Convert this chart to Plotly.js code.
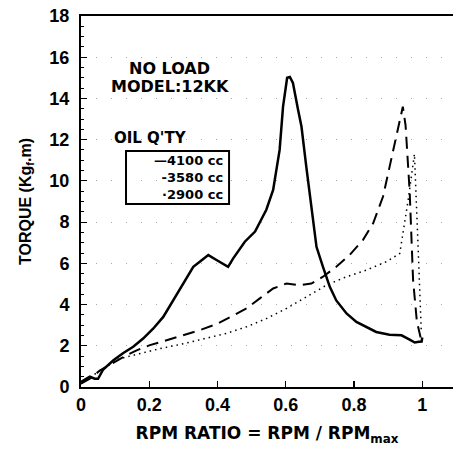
<!DOCTYPE html>
<html>
<head>
<meta charset="utf-8">
<script src="https://cdn.plot.ly/plotly-3.0.1.min.js"></script>
<style>html,body{margin:0;padding:0;background:#fff;}#chart{width:453px;height:461px;}</style>
</head>
<body>
<div id="chart"></div>
<script>
// RPM ratio and torque values
var solidX = [0, 0.015, 0.026, 0.04, 0.05, 0.065, 0.08, 0.095, 0.124, 0.153, 0.182, 0.212, 0.241, 0.27, 0.3, 0.329, 0.348, 0.373, 0.397, 0.431, 0.446, 0.48, 0.51, 0.543, 0.563, 0.582, 0.592, 0.604, 0.612, 0.621, 0.636, 0.646, 0.66, 0.675, 0.69, 0.709, 0.729, 0.748, 0.778, 0.807, 0.836, 0.865, 0.904, 0.939, 0.963, 0.978, 0.99, 0.998, 1.0];
var solidY = [0.24, 0.4, 0.5, 0.4, 0.4, 0.85, 1.1, 1.3, 1.65, 1.95, 2.35, 2.84, 3.4, 4.2, 5.0, 5.83, 6.08, 6.4, 6.16, 5.83, 6.24, 7.05, 7.54, 8.6, 9.56, 11.5, 13.6, 15.0, 15.04, 14.75, 13.45, 12.64, 10.7, 8.6, 6.8, 5.83, 4.86, 4.2, 3.57, 3.16, 2.92, 2.67, 2.54, 2.51, 2.3, 2.16, 2.19, 2.2, 2.4];

var dashX = [0, 0.026, 0.056, 0.095, 0.129, 0.163, 0.202, 0.251, 0.3, 0.348, 0.397, 0.446, 0.485, 0.524, 0.563, 0.602, 0.641, 0.675, 0.709, 0.748, 0.787, 0.826, 0.856, 0.885, 0.909, 0.929, 0.943, 0.951, 0.963, 0.973, 0.984, 0.995];
var dashY = [0.16, 0.4, 0.81, 1.2, 1.5, 1.78, 2.03, 2.27, 2.51, 2.76, 3.05, 3.48, 3.81, 4.3, 4.78, 5.02, 4.94, 5.02, 5.35, 5.83, 6.4, 7.13, 7.94, 9.24, 11.0, 12.5, 13.6, 12.7, 9.5, 5.2, 3.2, 2.4];

var dotX = [0, 0.056, 0.114, 0.173, 0.231, 0.3, 0.368, 0.426, 0.485, 0.543, 0.602, 0.66, 0.719, 0.778, 0.836, 0.895, 0.934, 0.958, 0.977, 0.987, 0.997];
var dotY = [0.16, 0.8, 1.38, 1.62, 1.86, 2.1, 2.35, 2.6, 2.92, 3.32, 3.81, 4.38, 4.94, 5.35, 5.67, 6.08, 6.48, 9.0, 11.3, 7.1, 2.75];

var seriesNames = ["4100 cc", "3580 cc", "2900 cc"];
var legendMarks = ["\u2014", "-", "\u00b7"];
var xTickVals = [0, 0.2, 0.4, 0.6, 0.8, 1];
var xTickText = ["0", "0.2", "0.4", "0.6", "0.8", "1"];
var yTickVals = [0, 2, 4, 6, 8, 10, 12, 14, 16, 18];

var FONT = "Liberation Sans, Arial, sans-serif";
var WIDE = "DejaVu Sans, sans-serif";

var traces = [
  {x: solidX, y: solidY, name: seriesNames[0], mode: "lines", line: {color: "#000", width: 2.5}},
  {x: dashX, y: dashY, name: seriesNames[1], mode: "lines", line: {color: "#000", width: 2, dash: "12px,7px"}},
  {x: dotX, y: dotY, name: seriesNames[2], mode: "lines", line: {color: "#000", width: 1.5, dash: "1.5px,4px"}}
];

var legendLines = [];
for (var i = 0; i < seriesNames.length; i++) legendLines.push(legendMarks[i] + seriesNames[i]);

var annotations = [
  {text: "NO LOAD", xref: "paper", yref: "paper", x: 0.239, y: 0.858, xanchor: "center", yanchor: "middle", showarrow: false, font: {size: 16, family: WIDE, weight: "bold"}},
  {text: "MODEL:12KK", xref: "paper", yref: "paper", x: 0.239, y: 0.810, xanchor: "center", yanchor: "middle", showarrow: false, font: {size: 16, family: WIDE, weight: "bold"}},
  {text: "OIL Q'TY", xref: "paper", yref: "paper", x: 0.188, y: 0.671, xanchor: "center", yanchor: "middle", showarrow: false, font: {size: 15, family: WIDE, weight: "bold"}},
  {text: legendLines.join("<br>"), xref: "paper", yref: "paper", x: 0.384, y: 0.566, xanchor: "right", yanchor: "middle", align: "right", showarrow: false, borderpad: 0, font: {size: 13, family: WIDE, weight: "bold"}}
];

var layout = {
  width: 453, height: 461,
  margin: {l: 81, r: 0, t: 16, b: 74},
  paper_bgcolor: "#fff", plot_bgcolor: "#fff",
  font: {family: FONT, color: "#000", weight: "bold"},
  showlegend: false,
  xaxis: {
    range: [0, 1.09], tickvals: xTickVals, ticktext: xTickText,
    ticks: "inside", ticklen: 6, tickwidth: 1.2, tickcolor: "#000",
    showline: true, linewidth: 2, linecolor: "#000", mirror: true,
    showgrid: false, zeroline: false,
    tickfont: {size: 18, family: FONT, weight: "bold"},
    title: {text: "RPM RATIO = RPM / RPM<sub>max</sub>", font: {size: 17, family: WIDE, weight: "bold"}, standoff: 14}
  },
  yaxis: {
    range: [0, 18], tickvals: yTickVals,
    ticks: "inside", ticklen: 6, tickwidth: 1.2, tickcolor: "#000",
    minor: {dtick: 0.5, ticks: "inside", ticklen: 3, tickcolor: "#000", tickwidth: 1, showgrid: false},
    showline: true, linewidth: 2, linecolor: "#000",
    showgrid: true, gridcolor: "#aaa", gridwidth: 1, griddash: "1px,14px",
    zeroline: false,
    tickfont: {size: 18, family: FONT, weight: "bold"},
    ticklabelstandoff: 6,
    title: {text: "TORQUE (Kg<sub>f</sub>.m)", font: {size: 16, family: FONT, weight: "bold"}, standoff: 14}
  },
  shapes: [
    {type: "rect", xref: "paper", yref: "paper", x0: 0.121, x1: 0.398, y0: 0.493, y1: 0.636, line: {color: "#000", width: 2}, fillcolor: "rgba(0,0,0,0)"}
  ],
  annotations: annotations
};

Plotly.newPlot("chart", traces, layout, {displayModeBar: false, staticPlot: true});
</script>
</body>
</html>
